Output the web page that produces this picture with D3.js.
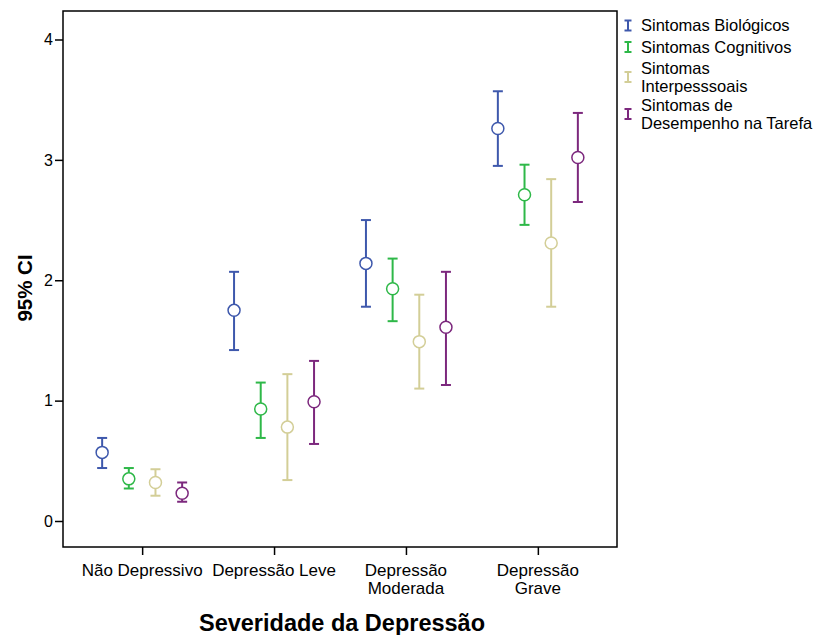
<!DOCTYPE html>
<html>
<head>
<meta charset="utf-8">
<script src="https://cdn.jsdelivr.net/npm/d3@7"></script>
<style>
  body { margin: 0; background: #fff; }
  svg { display: block; font-family: "Liberation Sans", Arial, sans-serif; }
</style>
</head>
<body>
<svg id="chart" width="821" height="635"></svg>
<script>
// Severity groups (x axis) and symptom series
const categories = ["Não Depressivo", "Depressão Leve", "Depressão Moderada", "Depressão Grave"];
const categoryLines = [["Não Depressivo"], ["Depressão Leve"], ["Depressão", "Moderada"], ["Depressão", "Grave"]];
const seriesNames = ["Sintomas Biológicos", "Sintomas Cognitivos", "Sintomas Interpesssoais", "Sintomas de Desempenho na Tarefa"];
const legendLines = [["Sintomas Biológicos"], ["Sintomas Cognitivos"], ["Sintomas", "Interpesssoais"], ["Sintomas de", "Desempenho na Tarefa"]];
const seriesColors = ["#3E58AC", "#2EB848", "#D3CE97", "#7C287D"];

// Means and 95% CI bounds, one row per series, one column per severity group
const means = [
  [0.57, 1.75, 2.14, 3.26],
  [0.35, 0.93, 1.93, 2.71],
  [0.32, 0.78, 1.49, 2.31],
  [0.23, 0.99, 1.61, 3.02]
];
const lower = [
  [0.44, 1.42, 1.78, 2.95],
  [0.27, 0.69, 1.66, 2.46],
  [0.21, 0.34, 1.10, 1.78],
  [0.16, 0.64, 1.13, 2.65]
];
const upper = [
  [0.69, 2.07, 2.50, 3.57],
  [0.44, 1.15, 2.18, 2.96],
  [0.43, 1.22, 1.88, 2.84],
  [0.32, 1.33, 2.07, 3.39]
];
const yTicks = [0, 1, 2, 3, 4];

const svg = d3.select("#chart");
const frame = { left: 63, right: 617, top: 11, bottom: 547 };

const x = d3.scalePoint().domain(categories).range([frame.left, frame.right]).padding(0.6);
const xs = d3.scalePoint().domain(seriesNames).range([-40, 40]);
const y = d3.scaleLinear().domain([0, 4]).range([521, 39.5]);

// plot frame
svg.append("rect")
  .attr("x", frame.left).attr("y", frame.top)
  .attr("width", frame.right - frame.left).attr("height", frame.bottom - frame.top)
  .attr("fill", "none").attr("stroke", "#000").attr("stroke-width", 1.5);

// y axis
const yAxis = svg.append("g").attr("transform", `translate(${frame.left},0)`)
  .call(d3.axisLeft(y).tickValues(yTicks).tickFormat(d3.format("d")).tickSize(8).tickPadding(2));
yAxis.select(".domain").remove();
yAxis.selectAll("line").attr("stroke", "#000").attr("stroke-width", 1.5);
yAxis.selectAll("text").attr("font-size", 16).attr("fill", "#000")
  .attr("font-family", "Liberation Sans, Arial, sans-serif");

// x axis: ticks from the axis generator, wrapped labels drawn line by line
const xAxis = svg.append("g").attr("transform", `translate(0,${frame.bottom})`)
  .call(d3.axisBottom(x).tickSize(8).tickFormat(""));
xAxis.select(".domain").remove();
xAxis.selectAll("line").attr("stroke", "#000").attr("stroke-width", 1.5);
categories.forEach((c, i) => {
  categoryLines[i].forEach((ln, j) => {
    svg.append("text")
      .attr("x", x(c)).attr("y", 576 + j * 18)
      .attr("text-anchor", "middle").attr("font-size", 17).attr("fill", "#000")
      .text(ln);
  });
});

// axis titles
svg.append("text")
  .attr("x", (frame.left + frame.right) / 2 + 2).attr("y", 631)
  .attr("text-anchor", "middle").attr("font-size", 23.5).attr("font-weight", "bold")
  .text("Severidade da Depressão");
svg.append("text")
  .attr("transform", `translate(32,${(frame.top + frame.bottom) / 2 + 9}) rotate(-90)`)
  .attr("text-anchor", "middle").attr("font-size", 20.5).attr("font-weight", "bold")
  .text("95% CI");

// error bars and mean markers
const cap = 5;
seriesNames.forEach((s, si) => {
  const g = svg.append("g").attr("stroke", seriesColors[si]).attr("fill", "none");
  categories.forEach((c, ci) => {
    const cx = x(c) + xs(s);
    const yl = y(lower[si][ci]), yu = y(upper[si][ci]), ym = y(means[si][ci]);
    g.append("line").attr("x1", cx).attr("x2", cx).attr("y1", yl).attr("y2", yu).attr("stroke-width", 2);
    g.append("line").attr("x1", cx - cap).attr("x2", cx + cap).attr("y1", yu).attr("y2", yu).attr("stroke-width", 2);
    g.append("line").attr("x1", cx - cap).attr("x2", cx + cap).attr("y1", yl).attr("y2", yl).attr("stroke-width", 2);
    g.append("circle").attr("cx", cx).attr("cy", ym).attr("r", 6)
      .attr("fill", "#fff").attr("stroke-width", 1.5);
  });
});

// legend
const legendY = [25.5, 47, 77, 114];
seriesNames.forEach((s, i) => {
  const lg = svg.append("g").attr("transform", `translate(628,${legendY[i]})`);
  lg.append("line").attr("x1", 0).attr("x2", 0).attr("y1", -5).attr("y2", 5)
    .attr("stroke", seriesColors[i]).attr("stroke-width", 2);
  lg.append("line").attr("x1", -3.5).attr("x2", 3.5).attr("y1", -5).attr("y2", -5)
    .attr("stroke", seriesColors[i]).attr("stroke-width", 2);
  lg.append("line").attr("x1", -3.5).attr("x2", 3.5).attr("y1", 5).attr("y2", 5)
    .attr("stroke", seriesColors[i]).attr("stroke-width", 2);
  const lines = legendLines[i];
  const y0 = lines.length === 1 ? 5.5 : -3.5;
  lines.forEach((ln, j) => {
    lg.append("text").attr("x", 13).attr("y", y0 + j * 18)
      .attr("font-size", 16.5).attr("fill", "#000").text(ln);
  });
});
</script>
</body>
</html>
